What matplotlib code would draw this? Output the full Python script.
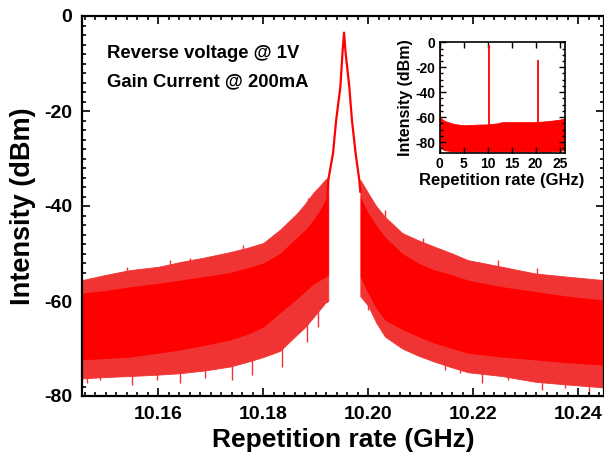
import matplotlib
matplotlib.use('Agg')
import matplotlib.pyplot as plt
from matplotlib.ticker import MultipleLocator, FixedLocator

plt.rcParams['font.family'] = ['Liberation Sans', 'DejaVu Sans']
plt.rcParams['font.weight'] = 'bold'
plt.rcParams['axes.unicode_minus'] = False

# ---------------- main spectrum ----------------
# left noise skirt
left_x = [10.1455, 10.1500, 10.1546, 10.1600, 10.1642, 10.1690, 10.1737, 10.1770,
          10.1800, 10.1832, 10.1865, 10.1880, 10.1895, 10.1910, 10.1918, 10.1924]
left_tip_top = [-55.6, -54.5, -53.5, -52.8, -51.8, -50.8, -49.7, -48.8,
                -47.8, -45.0, -41.5, -39.5, -37.3, -35.5, -34.5, -34.0]
left_core_top = [-58.3, -57.8, -57.0, -56.3, -55.6, -54.8, -54.0, -53.0,
                 -52.0, -50.0, -46.5, -45.0, -43.0, -40.5, -38.7, -37.5]
left_core_bot = [-72.4, -72.1, -71.8, -71.0, -70.3, -69.3, -68.2, -67.0,
                 -65.5, -62.5, -59.5, -58.0, -56.5, -55.5, -55.0, -54.5]
left_tip_bot = [-76.3, -76.0, -75.8, -75.5, -75.2, -74.6, -73.8, -72.8,
                -71.8, -70.5, -67.0, -65.5, -63.5, -61.5, -60.4, -60.0]

# right noise skirt
right_x = [10.1985, 10.2000, 10.2015, 10.2032, 10.2065, 10.2095, 10.2127,
           10.2160, 10.2190, 10.2255, 10.2318, 10.2381, 10.2449]
right_tip_top = [-34.5, -37.3, -40.0, -42.3, -45.7, -47.2, -48.6,
                 -50.0, -51.4, -52.8, -54.2, -54.9, -55.6]
right_core_top = [-38.0, -41.5, -44.0, -46.5, -50.0, -52.0, -53.5,
                  -54.5, -55.6, -57.0, -58.0, -59.0, -59.8]
right_core_bot = [-55.0, -58.4, -61.5, -64.0, -66.0, -67.5, -68.9,
                  -70.0, -71.0, -71.8, -72.4, -73.0, -73.5]
right_tip_bot = [-59.0, -61.0, -64.5, -67.5, -70.0, -71.5, -72.8,
                 -74.0, -75.0, -75.8, -77.0, -77.6, -78.2]

# individual deep / tall spikes visible at the skirt edges
dip_x = [10.1464, 10.1489, 10.1550, 10.1597, 10.1642, 10.1689, 10.1740, 10.1778,
         10.1835, 10.1883, 10.1905, 10.2000, 10.2026, 10.2061, 10.2102, 10.2147,
         10.2175, 10.2216, 10.2267, 10.2331, 10.2375, 10.2420]
dip_y = [-77.3, -76.6, -77.7, -76.6, -77.3, -76.3, -76.6, -75.6,
         -73.8, -68.6, -65.4, -61.9, -66.1, -69.3, -71.7, -74.5,
         -75.2, -77.3, -76.6, -78.7, -78.4, -80.0]
tip_x = [10.1540, 10.1623, 10.1661, 10.1762, 10.1832, 10.1886,
         10.2032, 10.2105, 10.2210, 10.2248, 10.2321]
tip_y = [-52.9, -51.4, -51.0, -48.2, -45.1, -38.4,
         -40.8, -46.8, -51.7, -51.4, -53.1]

# central carrier peak
peak_x = [10.1922, 10.1924, 10.1933, 10.1939, 10.1947, 10.1951, 10.1954,
          10.1957, 10.1964, 10.1969, 10.1976, 10.1983, 10.1985]
peak_y = [-38.0, -34.5, -28.9, -21.9, -14.9, -7.8, -3.5,
          -7.8, -14.9, -21.9, -28.9, -34.5, -37.0]

x_ticks = [10.16, 10.18, 10.20, 10.22, 10.24]
y_ticks = [0, -20, -40, -60, -80]

# ---------------- inset (wide span) ----------------
inset_x = [0, 1, 3, 5, 8, 10, 12, 13, 16, 20, 23, 25, 26]
inset_top = [-60, -63, -65.5, -66.5, -66, -65.8, -65, -64, -64, -64, -63, -62, -61]
inset_bot = [-84, -86.5, -87.5, -87.5, -87.5, -87.5, -87.5, -87.5, -87.5,
             -87.5, -87.5, -87, -86.5]
harm_x = [0.05, 10.2, 20.4]
harm_y = [-3.0, -2.5, -14.5]
inset_x_ticks = [0, 5, 10, 15, 20, 25]
inset_y_ticks = [0, -20, -40, -60, -80]

RED = '#ff0000'
TIP = '#f03434'

fig = plt.figure(figsize=(6.04, 4.59), dpi=100)
ax = fig.add_axes([82 / 604, 1 - 396 / 459, 522 / 604, 380 / 459])

ax.vlines(dip_x, dip_y, [-60] * len(dip_x), color=TIP, lw=1.0, zorder=1)
ax.vlines(tip_x, tip_y, [-60] * len(tip_x), color=TIP, lw=1.0, zorder=1)
ax.fill_between(left_x, left_tip_bot, left_tip_top, color=TIP, lw=0.6, zorder=2)
ax.fill_between(left_x, left_core_bot, left_core_top, color=RED, lw=0, zorder=3)
ax.fill_between(right_x, right_tip_bot, right_tip_top, color=TIP, lw=0.6, zorder=2)
ax.fill_between(right_x, right_core_bot, right_core_top, color=RED, lw=0, zorder=3)
ax.plot(peak_x, peak_y, color=RED, lw=1.6, solid_joinstyle='round', zorder=4)

ax.set_xlim(10.1455, 10.2449)
ax.set_ylim(-80, 0)
ax.xaxis.set_major_locator(FixedLocator(x_ticks))
ax.set_xticklabels([f'{v:.2f}' for v in x_ticks])
ax.xaxis.set_minor_locator(MultipleLocator(0.002))
ax.yaxis.set_major_locator(FixedLocator(y_ticks))
ax.set_yticklabels([str(v) for v in y_ticks])
ax.yaxis.set_minor_locator(MultipleLocator(2))
ax.tick_params(which='both', direction='in', top=True, right=True, width=1.2, colors='black')
ax.tick_params(which='major', length=5.5, labelsize=14, pad=7)
ax.tick_params(which='minor', length=3)
for lab in ax.get_xticklabels() + ax.get_yticklabels():
    lab.set_fontweight('bold')
for s in ax.spines.values():
    s.set_linewidth(1.6)
    s.set_zorder(5)

ax.set_xlabel('Repetition rate (GHz)', fontsize=19, fontweight='bold', labelpad=4)
ax.set_ylabel('Intensity (dBm)', fontsize=19.5, fontweight='bold', labelpad=6)

ax.text(0.048, 0.8887, 'Reverse voltage @ 1V', transform=ax.transAxes,
        fontsize=13.3, fontweight='bold', va='baseline', ha='left')
ax.text(0.048, 0.8158, 'Gain Current @ 200mA', transform=ax.transAxes,
        fontsize=13.3, fontweight='bold', va='baseline', ha='left')

# ---------------- inset ----------------
ins = fig.add_axes([439.5 / 604, 1 - 153.3 / 459, 125 / 604, 111 / 459])
ins.fill_between(inset_x, inset_bot, inset_top, color=RED, lw=0.6)
ins.vlines(harm_x, -66, harm_y, color=RED, lw=1.3)
ins.set_xlim(0, 26)
ins.set_ylim(-89, 0)
ins.xaxis.set_major_locator(FixedLocator(inset_x_ticks))
ins.set_xticklabels([str(v) for v in inset_x_ticks])
ins.yaxis.set_major_locator(FixedLocator(inset_y_ticks))
ins.set_yticklabels([str(v) for v in inset_y_ticks])
ins.yaxis.set_minor_locator(MultipleLocator(5))
ins.tick_params(which='both', direction='in', top=True, right=True, width=1.0)
ins.tick_params(which='major', length=4, labelsize=10, pad=3)
ins.tick_params(which='minor', length=2.2)
for lab in ins.get_xticklabels() + ins.get_yticklabels():
    lab.set_fontweight('bold')
for s in ins.spines.values():
    s.set_linewidth(1.2)
ins.set_xlabel('Repetition rate (GHz)', fontsize=12, fontweight='bold', labelpad=1)
ins.set_ylabel('Intensity (dBm)', fontsize=11.5, fontweight='bold', labelpad=2)

fig.savefig('out.png', dpi=100)
